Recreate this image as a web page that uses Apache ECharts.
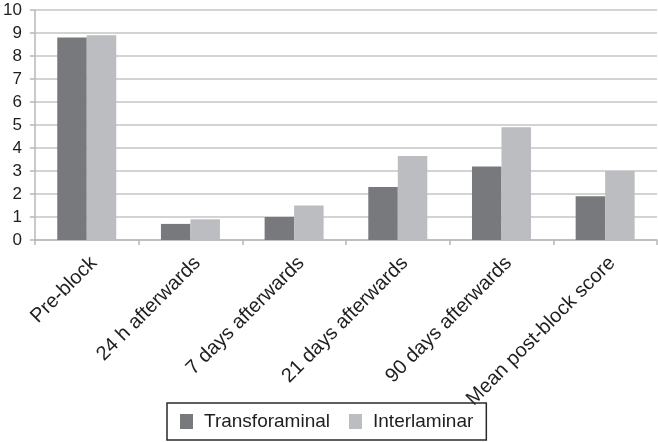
<!DOCTYPE html>
<html>
<head>
<meta charset="utf-8">
<script src="https://cdn.jsdelivr.net/npm/echarts@6/dist/echarts.min.js"></script>
<style>
html,body{margin:0;padding:0;background:#fff;}
#chart{width:658px;height:442px;}
</style>
</head>
<body>
<div id="chart"></div>
<script>
var categories = ["Pre-block", "24 h afterwards", "7 days afterwards", "21 days afterwards", "90 days afterwards", "Mean post-block score"];
var transforaminal = [8.8, 0.7, 1.0, 2.3, 3.2, 1.9];
var interlaminar = [8.9, 0.9, 1.5, 3.65, 4.9, 3.0];
var seriesNames = ["Transforaminal", "Interlaminar"];

var FONT = '"Liberation Sans", Arial, Helvetica, sans-serif';
var chart = echarts.init(document.getElementById('chart'), null, {renderer: 'canvas'});
chart.setOption({
  animation: false,
  backgroundColor: '#ffffff',
  textStyle: {fontFamily: FONT},
  grid: {left: 34, right: 1, top: 10, bottom: 202, containLabel: false},
  legend: {
    data: seriesNames,
    left: 167, top: 403,
    orient: 'horizontal',
    padding: [9, 13, 9, 13],
    itemGap: 19,
    itemWidth: 13, itemHeight: 15,
    borderColor: '#2a2a2a', borderWidth: 1.5,
    icon: 'rect',
    textStyle: {fontFamily: FONT, fontSize: 19, color: '#1e1e1e', lineHeight: 19, padding: [0, 0, 0, 6]}
  },
  xAxis: {
    type: 'category',
    data: categories,
    axisLine: {show: true, lineStyle: {color: '#b8b8b8', width: 1.5}},
    axisTick: {show: true, length: 5, lineStyle: {color: '#b8b8b8', width: 1.5}},
    axisLabel: {interval: 0, rotate: 45, fontFamily: FONT, fontSize: 20, color: '#1e1e1e', margin: 13, align: 'right', verticalAlign: 'top'},
    splitLine: {show: false}
  },
  yAxis: {
    type: 'value',
    min: 0, max: 10, interval: 1,
    axisLine: {show: true, lineStyle: {color: '#b8b8b8', width: 1.5}},
    axisTick: {show: true, length: 5, lineStyle: {color: '#b8b8b8', width: 1.5}},
    axisLabel: {fontFamily: FONT, fontSize: 17, color: '#1e1e1e', margin: 13},
    splitLine: {show: true, lineStyle: {color: '#c4c4c4', width: 1.5}}
  },
  series: [
    {name: seriesNames[0], type: 'bar', data: transforaminal, barWidth: 29.5, barGap: '0%', itemStyle: {color: '#78797d'}},
    {name: seriesNames[1], type: 'bar', data: interlaminar, barWidth: 29.5, barGap: '0%', itemStyle: {color: '#bcbdc0'}}
  ]
});
</script>
</body>
</html>
